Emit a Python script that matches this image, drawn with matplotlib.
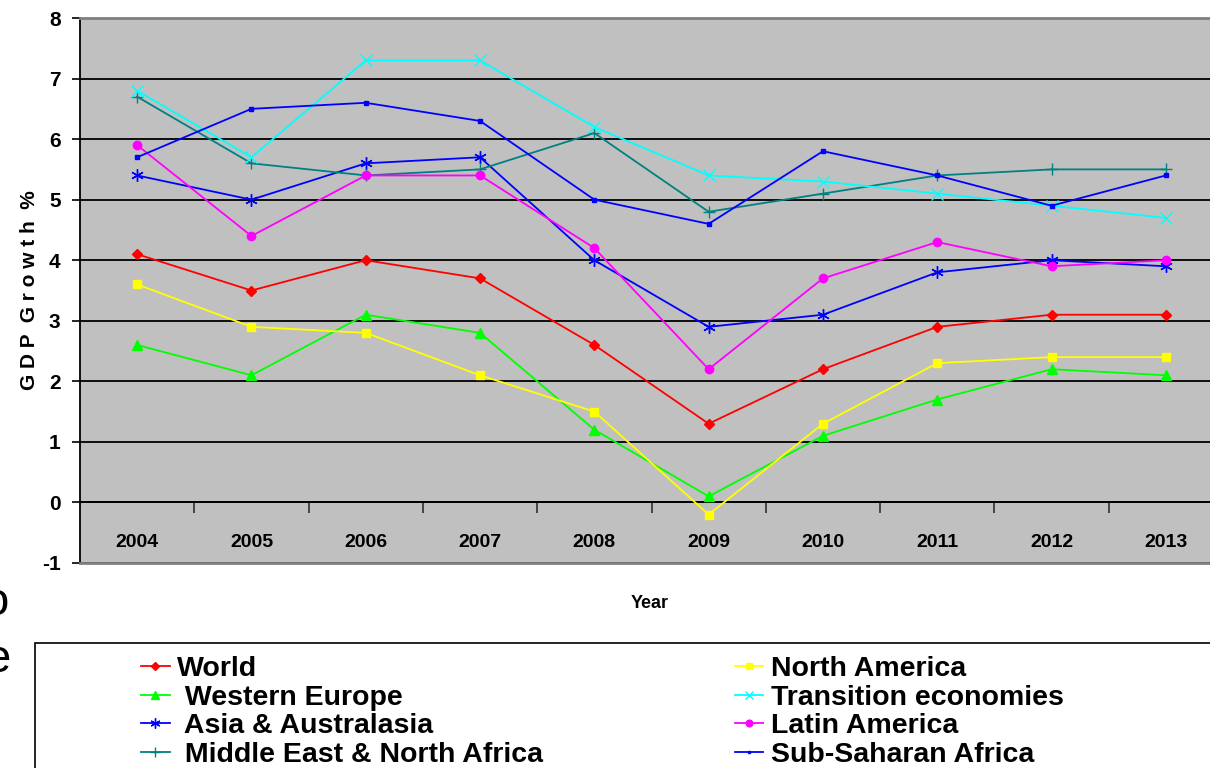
import numpy as np
import matplotlib
matplotlib.use('Agg')
import matplotlib.pyplot as plt
from matplotlib.patches import Rectangle

years = ['2004', '2005', '2006', '2007', '2008', '2009', '2010', '2011', '2012', '2013']

world = [4.1, 3.5, 4.0, 3.7, 2.6, 1.3, 2.2, 2.9, 3.1, 3.1]
north_america = [3.6, 2.9, 2.8, 2.1, 1.5, -0.2, 1.3, 2.3, 2.4, 2.4]
western_europe = [2.6, 2.1, 3.1, 2.8, 1.2, 0.1, 1.1, 1.7, 2.2, 2.1]
transition = [6.8, 5.7, 7.3, 7.3, 6.2, 5.4, 5.3, 5.1, 4.9, 4.7]
asia = [5.4, 5.0, 5.6, 5.7, 4.0, 2.9, 3.1, 3.8, 4.0, 3.9]
latin_america = [5.9, 4.4, 5.4, 5.4, 4.2, 2.2, 3.7, 4.3, 3.9, 4.0]
mena = [6.7, 5.6, 5.4, 5.5, 6.1, 4.8, 5.1, 5.4, 5.5, 5.5]
ssa = [5.7, 6.5, 6.6, 6.3, 5.0, 4.6, 5.8, 5.4, 4.9, 5.4]

y_ticks = [-1, 0, 1, 2, 3, 4, 5, 6, 7, 8]

FONT = ['Liberation Sans Narrow', 'Liberation Sans', 'DejaVu Sans']
plt.rcParams['font.family'] = FONT
plt.rcParams['font.weight'] = 'bold'

fig = plt.figure(figsize=(12.1, 7.68), dpi=100)
ax = fig.add_axes([80 / 1210, 1 - 563 / 768, 1143 / 1210, 545 / 768])
ax.set_facecolor('#c0c0c0')

x = np.arange(len(years))

# (label, values, color, marker, markersize)
series = [
    ('World', world, '#ff0000', 'D', 5),
    (' Western Europe', western_europe, '#00ff00', '^', 7),
    (' Asia & Australasia', asia, '#0000ff', (6, 2, 0), 9),
    (' Middle East & North Africa', mena, '#008080', '+', 9),
    ('North America', north_america, '#ffff00', 's', 6),
    ('Transition economies', transition, '#00ffff', 'x', 8),
    ('Latin America', latin_america, '#ff00ff', 'o', 6),
    ('Sub-Saharan Africa', ssa, '#0000ff', 's', 2.5),
]

handles = []
for label, vals, col, mk, ms in series:
    h, = ax.plot(x, vals, color=col, marker=mk, markersize=ms, lw=1.3,
                 markeredgecolor=col, markerfacecolor=col, label=label,
                 clip_on=False, zorder=3)
    handles.append(h)

ax.set_xlim(-0.5, len(years) - 0.5)
ax.set_ylim(-1, 8)
ax.set_yticks(y_ticks)
ax.set_yticklabels([str(v) for v in y_ticks], fontsize=15, fontweight='bold')
ax.yaxis.grid(True, color='black', lw=1.3)
ax.set_axisbelow(True)
ax.tick_params(axis='y', length=6, width=1.2, pad=8, direction='out')

# x axis crosses at zero
ax.spines['bottom'].set_position(('data', 0))
ax.spines['bottom'].set_color('black')
ax.spines['bottom'].set_linewidth(1.3)
ax.spines['top'].set_color('#808080')
ax.spines['top'].set_linewidth(2)
ax.spines['right'].set_visible(False)
ax.spines['left'].set_linewidth(1.3)
ax.axhline(-1, color='#808080', lw=2, clip_on=False, zorder=4)

ax.set_xticks(x)
ax.set_xticklabels(years, fontsize=14, fontweight='bold')
ax.tick_params(axis='x', which='major', length=0, pad=23)
ax.set_xticks(x[:-1] + 0.5, minor=True)
ax.tick_params(axis='x', which='minor', length=8, width=1.2, direction='out', color='#303030')

fig.text(30 / 1210, 1 - 290 / 768, 'G D P  G r o w t h  %', rotation=90,
         ha='center', va='center', fontsize=15, fontweight='bold')
fig.text(650 / 1210, 1 - 604 / 768, 'Year', ha='center', va='center',
         fontsize=13, fontweight='bold')

# clipped letters at the left edge
fig.text(-0.014, 1 - 603 / 768, 'o', ha='left', va='center', fontsize=34,
         family=['Liberation Sans', 'DejaVu Sans'], fontweight='normal')
fig.text(-0.012, 1 - 660 / 768, 'e', ha='left', va='center', fontsize=34,
         family=['Liberation Sans', 'DejaVu Sans'], fontweight='normal')

# legend box running off the figure
fig.patches.append(Rectangle((35 / 1210, -0.2), 1.2, 0.2 + (1 - 643 / 768),
                             transform=fig.transFigure, fill=False,
                             edgecolor='black', lw=1.2))

leg = fig.legend(handles=handles, ncol=2, loc='upper left',
                 bbox_to_anchor=(127 / 1210, 1 - 642 / 768),
                 frameon=False, prop={'weight': 'bold', 'size': 20.5},
                 handlelength=1.0, handletextpad=0.25, labelspacing=0.09,
                 columnspacing=6.75, borderpad=0, markerscale=0.8)

fig.savefig('out.png', dpi=100)
